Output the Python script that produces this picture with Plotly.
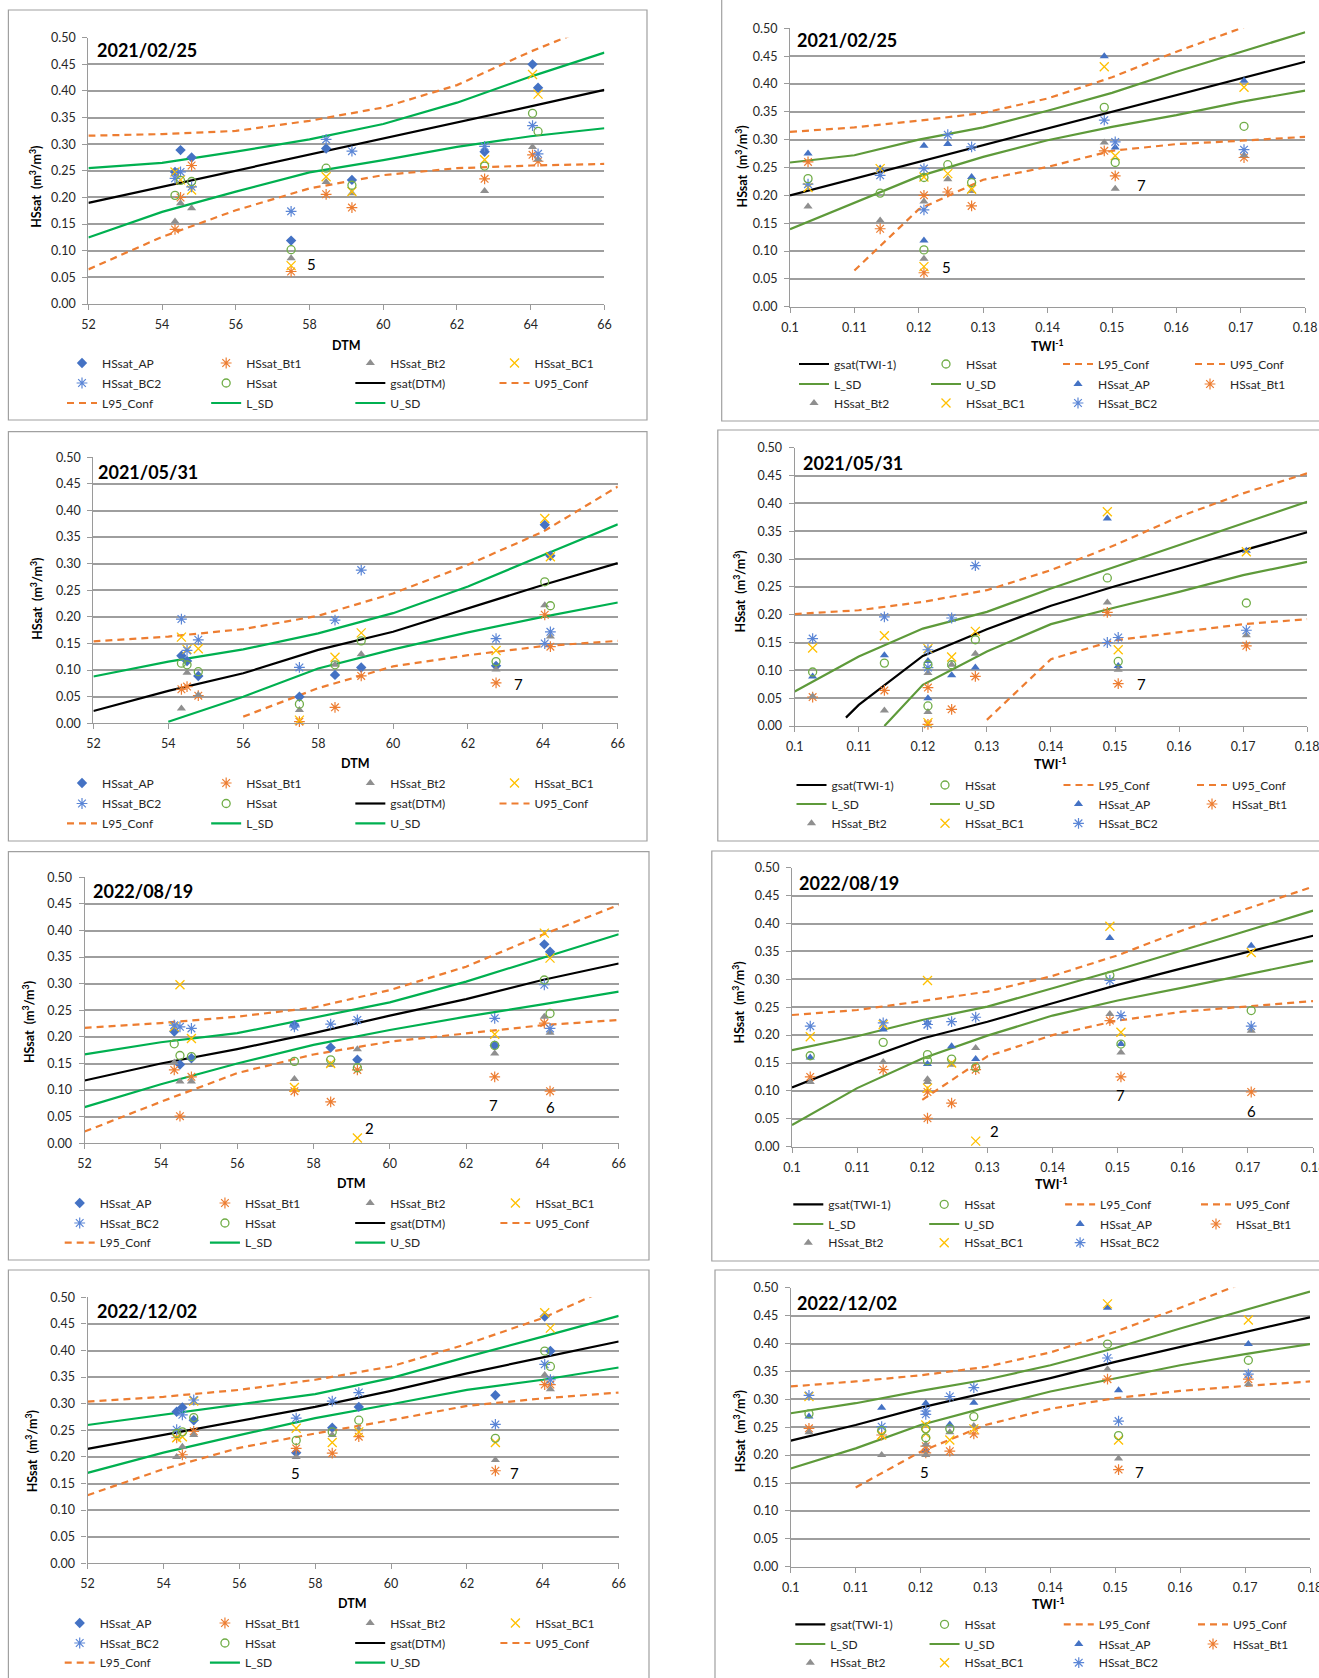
import plotly.graph_objects as go

W, H = 1319, 1678
FONT = "Lato"

# ---------------------------------------------------------------- data
SITE_DTM = [54.35, 54.5, 54.8, 57.5, 58.45, 59.15, 62.75, 64.05, 64.2]
SITE_TWI_INV = [0.114, 0.1208, 0.1028, 0.1208, 0.1245, 0.1282, 0.1505, 0.1488, 0.1705]

SERIES = ["HSsat_AP", "HSsat_Bt1", "HSsat_Bt2", "HSsat_BC1", "HSsat_BC2", "HSsat"]

HSSAT_20210225 = {
    "HSsat_AP":  [0.248, 0.289, 0.275, 0.119, 0.292, 0.233, 0.286, 0.450, 0.406],
    "HSsat_Bt1": [0.140, 0.200, 0.260, 0.061, 0.206, 0.181, 0.235, 0.280, 0.268],
    "HSsat_Bt2": [0.155, 0.189, 0.180, 0.086, 0.229, 0.208, 0.212, 0.295, 0.272],
    "HSsat_BC1": [0.248, 0.233, 0.214, 0.072, 0.239, 0.211, 0.271, 0.431, 0.394],
    "HSsat_BC2": [0.236, 0.248, 0.220, 0.174, 0.309, 0.287, 0.296, 0.335, 0.282],
    "HSsat":     [0.204, 0.232, 0.230, 0.102, 0.255, 0.223, 0.259, 0.358, 0.324],
}
HSSAT_20210531 = {
    "HSsat_AP":  [0.127, 0.117, 0.089, 0.050, 0.091, 0.105, 0.108, 0.373, 0.315],
    "HSsat_Bt1": [0.064, 0.069, 0.052, 0.003, 0.030, 0.089, 0.076, 0.204, 0.144],
    "HSsat_Bt2": [0.028, 0.095, 0.053, 0.025, 0.110, 0.130, 0.101, 0.222, 0.163],
    "HSsat_BC1": [0.162, 0.139, 0.140, 0.006, 0.124, 0.170, 0.137, 0.385, 0.313],
    "HSsat_BC2": [0.196, 0.137, 0.157, 0.105, 0.194, 0.288, 0.159, 0.150, 0.172],
    "HSsat":     [0.113, 0.110, 0.097, 0.036, 0.110, 0.155, 0.116, 0.266, 0.221],
}
HSSAT_20220819 = {
    "HSsat_AP":  [0.210, 0.148, 0.160, 0.222, 0.180, 0.157, 0.184, 0.374, 0.360],
    "HSsat_Bt1": [0.138, 0.051, 0.125, 0.098, 0.078, 0.138, 0.125, 0.226, 0.098],
    "HSsat_Bt2": [0.152, 0.116, 0.116, 0.121, 0.147, 0.177, 0.169, 0.238, 0.208],
    "HSsat_BC1": [0.219, 0.298, 0.197, 0.105, 0.150, 0.010, 0.205, 0.395, 0.348],
    "HSsat_BC2": [0.222, 0.219, 0.216, 0.219, 0.224, 0.232, 0.235, 0.298, 0.216],
    "HSsat":     [0.187, 0.165, 0.163, 0.154, 0.157, 0.142, 0.184, 0.307, 0.244],
}
HSSAT_20221202 = {
    "HSsat_AP":  [0.285, 0.293, 0.269, 0.208, 0.255, 0.294, 0.316, 0.464, 0.399],
    "HSsat_Bt1": [0.236, 0.204, 0.248, 0.216, 0.207, 0.238, 0.174, 0.336, 0.336],
    "HSsat_Bt2": [0.200, 0.219, 0.241, 0.200, 0.241, 0.252, 0.194, 0.354, 0.327],
    "HSsat_BC1": [0.236, 0.238, 0.305, 0.254, 0.227, 0.247, 0.227, 0.471, 0.442],
    "HSsat_BC2": [0.251, 0.279, 0.307, 0.273, 0.305, 0.321, 0.261, 0.374, 0.345],
    "HSsat":     [0.244, 0.247, 0.274, 0.231, 0.247, 0.269, 0.235, 0.399, 0.370],
}

# fitted curves (None = not defined at that abscissa)
DTM_GRID = [52, 54, 56, 58, 60, 62, 64, 66]
TWI_GRID = [0.10, 0.11, 0.12, 0.13, 0.14, 0.15, 0.16, 0.17, 0.18]
TWI_GRID_20210531 = [0.10, 0.108, 0.11, 0.114, 0.12, 0.13, 0.14, 0.15, 0.16, 0.17, 0.18]

FIT_DTM_20210225 = {
    "gsat":     [0.190, 0.220, 0.250, 0.281, 0.311, 0.341, 0.371, 0.402],
    "U95_Conf": [0.316, 0.319, 0.325, 0.344, 0.369, 0.411, 0.474, 0.530],
    "L95_Conf": [0.065, 0.126, 0.176, 0.217, 0.242, 0.255, 0.260, 0.263],
    "L_SD":     [0.125, 0.173, 0.211, 0.247, 0.270, 0.295, 0.315, 0.330],
    "U_SD":     [0.255, 0.265, 0.286, 0.309, 0.338, 0.378, 0.427, 0.472],
}
FIT_DTM_20210531 = {
    "gsat":     [0.023, 0.061, 0.094, 0.138, 0.172, 0.216, 0.260, 0.301],
    "U95_Conf": [0.154, 0.163, 0.177, 0.202, 0.244, 0.298, 0.360, 0.445],
    "L95_Conf": [None, None, 0.0125, 0.066, 0.107, 0.128, 0.145, 0.155],
    "L_SD":     [None, 0.003, 0.050, 0.103, 0.139, 0.171, 0.200, 0.227],
    "U_SD":     [0.088, 0.116, 0.139, 0.169, 0.207, 0.257, 0.316, 0.374],
}
FIT_DTM_20220819 = {
    "gsat":     [0.118, 0.150, 0.177, 0.207, 0.240, 0.271, 0.307, 0.338],
    "U95_Conf": [0.217, 0.226, 0.238, 0.255, 0.288, 0.332, 0.392, 0.448],
    "L95_Conf": [0.022, 0.078, 0.132, 0.167, 0.191, 0.207, 0.222, 0.232],
    "L_SD":     [0.068, 0.111, 0.150, 0.185, 0.213, 0.238, 0.261, 0.285],
    "U_SD":     [0.167, 0.190, 0.207, 0.236, 0.265, 0.304, 0.348, 0.393],
}
FIT_DTM_20221202 = {
    "gsat":     [0.215, 0.241, 0.268, 0.294, 0.324, 0.357, 0.387, 0.417],
    "U95_Conf": [0.304, 0.313, 0.326, 0.345, 0.370, 0.412, 0.461, 0.525],
    "L95_Conf": [0.128, 0.177, 0.217, 0.244, 0.269, 0.296, 0.310, 0.321],
    "L_SD":     [0.170, 0.208, 0.241, 0.273, 0.299, 0.326, 0.345, 0.368],
    "U_SD":     [0.260, 0.279, 0.298, 0.318, 0.348, 0.388, 0.426, 0.465],
}

FIT_TWI_20210225 = {
    "gsat":     [0.200, 0.230, 0.260, 0.290, 0.320, 0.350, 0.380, 0.410, 0.440],
    "U95_Conf": [0.314, 0.322, 0.334, 0.348, 0.374, 0.412, 0.458, 0.500, 0.545],
    "L95_Conf": [None, 0.065, 0.175, 0.228, 0.251, 0.280, 0.292, 0.298, 0.305],
    "L_SD":     [0.139, 0.186, 0.234, 0.269, 0.299, 0.323, 0.344, 0.368, 0.388],
    "U_SD":     [0.259, 0.272, 0.300, 0.322, 0.352, 0.384, 0.422, 0.458, 0.493],
}
FIT_TWI_20210531 = {
    "gsat":     [None, 0.015, 0.038, None, 0.126, 0.174, 0.216, 0.251, 0.283, 0.315, 0.348],
    "U95_Conf": [0.201, None, 0.208, None, 0.223, 0.244, 0.280, 0.325, 0.376, 0.418, 0.454],
    "L95_Conf": [None, None, None, None, None, 0.011, 0.120, 0.154, 0.169, 0.183, 0.192],
    "L_SD":     [None, None, None, 0.000, 0.074, 0.134, 0.183, 0.213, 0.241, 0.271, 0.295],
    "U_SD":     [0.062, None, 0.125, None, 0.175, 0.205, 0.247, 0.286, 0.325, 0.364, 0.403],
}
FIT_TWI_20220819 = {
    "gsat":     [0.106, 0.152, 0.194, 0.224, 0.257, 0.290, 0.320, 0.349, 0.378],
    "U95_Conf": [0.236, 0.245, 0.261, 0.278, 0.306, 0.343, 0.388, 0.427, 0.466],
    "L95_Conf": [None, None, 0.084, 0.162, 0.200, 0.226, 0.242, 0.251, 0.261],
    "L_SD":     [0.039, 0.105, 0.158, 0.199, 0.235, 0.262, 0.285, 0.309, 0.333],
    "U_SD":     [0.173, 0.198, 0.227, 0.251, 0.284, 0.317, 0.352, 0.388, 0.423],
}
FIT_TWI_20221202 = {
    "gsat":     [0.226, 0.254, 0.285, 0.311, 0.338, 0.367, 0.394, 0.421, 0.447],
    "U95_Conf": [0.323, 0.332, 0.343, 0.358, 0.384, 0.421, 0.464, 0.510, 0.555],
    "L95_Conf": [None, 0.142, 0.206, 0.254, 0.283, 0.302, 0.315, 0.324, 0.332],
    "L_SD":     [0.176, 0.212, 0.254, 0.285, 0.314, 0.338, 0.361, 0.381, 0.399],
    "U_SD":     [0.275, 0.293, 0.315, 0.335, 0.361, 0.392, 0.427, 0.460, 0.493],
}

# site number labels: (x, y, text)
LABELS_DTM_20210225 = [(58.05, 0.075, "5")]
LABELS_TWI_20210225 = [(0.1243, 0.072, "5"), (0.1546, 0.219, "7")]
LABELS_DTM_20210531 = [(63.36, 0.074, "7")]
LABELS_TWI_20210531 = [(0.1541, 0.075, "7")]
LABELS_DTM_20220819 = [(62.73, 0.072, "7"), (64.2, 0.069, "6"), (59.46, 0.029, "2")]
LABELS_TWI_20220819 = [(0.1504, 0.093, "7"), (0.1706, 0.064, "6"), (0.1311, 0.028, "2")]
LABELS_DTM_20221202 = [(57.49, 0.170, "5"), (63.25, 0.169, "7")]
LABELS_TWI_20221202 = [(0.1206, 0.170, "5"), (0.1538, 0.170, "7")]

# ---------------------------------------------------------------- panels
# side "L": HSsat vs DTM, side "R": HSsat vs TWI^-1
PANELS = [
    dict(date="2021/02/25", side="L", pts=HSSAT_20210225, fit=FIT_DTM_20210225, fx=DTM_GRID, labels=LABELS_DTM_20210225,
         area=(88.4, 604.4, 37.7, 304.0), box=(8.4, 647, 10, 420), ytitle=(35.8, 187), xtitle=(346, 345),
         datepos=(94.7, 50), leg_x=[102, 246, 390.6, 534.5], leg_y=[363, 383, 403]),
    dict(date="2021/02/25", side="R", pts=HSSAT_20210225, fit=FIT_TWI_20210225, fx=TWI_GRID, labels=LABELS_TWI_20210225,
         area=(790.0, 1305.2, 28.3, 306.7), box=(721.7, 1340, -5, 421), ytitle=(741.5, 167), xtitle=(1047, 345),
         datepos=(794.7, 40), leg_x=[834, 966.5, 1098, 1230], leg_y=[364, 384, 403]),
    dict(date="2021/05/31", side="L", pts=HSSAT_20210531, fit=FIT_DTM_20210531, fx=DTM_GRID, labels=LABELS_DTM_20210531,
         area=(93.4, 617.8, 457.3, 723.3), box=(8.4, 647, 431.7, 841), ytitle=(35.8, 599), xtitle=(355, 763),
         datepos=(96, 471.7), leg_x=[102, 246, 390.6, 534.5], leg_y=[783, 803.5, 823.3]),
    dict(date="2021/05/31", side="R", pts=HSSAT_20210531, fit=FIT_TWI_20210531, fx=TWI_GRID_20210531, labels=LABELS_TWI_20210531,
         area=(794.7, 1307.2, 447.7, 726.0), box=(717.8, 1340, 430, 841), ytitle=(739.5, 592), xtitle=(1050.6, 763),
         datepos=(800.7, 463.3), leg_x=[831.5, 964.5, 1098.7, 1232], leg_y=[785, 804, 823.3]),
    dict(date="2022/08/19", side="L", pts=HSSAT_20220819, fit=FIT_DTM_20220819, fx=DTM_GRID, labels=LABELS_DTM_20220819,
         area=(84.6, 618.7, 877.3, 1143.3), box=(8.4, 649, 851.7, 1260), ytitle=(28.6, 1022.5), xtitle=(351.4, 1183.3),
         datepos=(90.5, 891), leg_x=[99.7, 245.4, 390.6, 535.4], leg_y=[1203, 1223, 1242.7]),
    dict(date="2022/08/19", side="R", pts=HSSAT_20220819, fit=FIT_TWI_20220819, fx=TWI_GRID, labels=LABELS_TWI_20220819,
         area=(792.0, 1313.1, 867.7, 1146.7), box=(711.8, 1340, 851, 1261), ytitle=(737.5, 1003), xtitle=(1051.4, 1183.3),
         datepos=(796.7, 882.7), leg_x=[828.3, 964.5, 1100.7, 1236], leg_y=[1204.3, 1224, 1242.7]),
    dict(date="2022/12/02", side="L", pts=HSSAT_20221202, fit=FIT_DTM_20221202, fx=DTM_GRID, labels=LABELS_DTM_20221202,
         area=(87.5, 618.7, 1297.3, 1563.3), box=(8.4, 649, 1270, 1700), ytitle=(31.6, 1451.7), xtitle=(352.7, 1603.3),
         datepos=(94.7, 1311), leg_x=[99.7, 245.4, 390.6, 535.4], leg_y=[1623, 1643, 1662.7]),
    dict(date="2022/12/02", side="R", pts=HSSAT_20221202, fit=FIT_TWI_20221202, fx=TWI_GRID, labels=LABELS_TWI_20221202,
         area=(790.8, 1310.0, 1287.7, 1566.7), box=(715, 1340, 1270, 1700), ytitle=(739.5, 1431.7), xtitle=(1048.2, 1603.3),
         datepos=(794.7, 1302.7), leg_x=[830.3, 964.5, 1098.7, 1233], leg_y=[1624.3, 1644, 1662.7]),
]

# legend layout (rows of four entries, as in the workbook charts)
LEGEND_ROWS = {
    "L": [["HSsat_AP", "HSsat_Bt1", "HSsat_Bt2", "HSsat_BC1"],
          ["HSsat_BC2", "HSsat", "gsat", "U95_Conf"],
          ["L95_Conf", "L_SD", "U_SD"]],
    "R": [["gsat", "HSsat", "L95_Conf", "U95_Conf"],
          ["L_SD", "U_SD", "HSsat_AP", "HSsat_Bt1"],
          ["HSsat_Bt2", "HSsat_BC1", "HSsat_BC2"]],
}

BLUE, ORANGE, GREY, GOLD, SKY, GREEN_PT = "#4472C4", "#ED7D31", "#8f8f8f", "#FFC000", "#5B86D6", "#70AD47"
SD_COLOR = {"L": "#00B050", "R": "#5E9A3A"}
GRID = "#9e9e9e"
AXIS = "#9a9a9a"
TEXT = "#262626"


def marker_for(name, side):
    if name == "HSsat_AP":
        return dict(symbol="diamond" if side == "L" else "triangle-up", size=8, color=BLUE)
    if name == "HSsat_Bt1":
        return dict(symbol="asterisk-open", size=9, color=ORANGE, line=dict(width=1.2, color=ORANGE))
    if name == "HSsat_Bt2":
        return dict(symbol="triangle-up", size=8, color=GREY)
    if name == "HSsat_BC1":
        return dict(symbol="x-thin-open", size=9, color=GOLD, line=dict(width=1.3, color=GOLD))
    if name == "HSsat_BC2":
        return dict(symbol="asterisk-open", size=9, color=SKY, line=dict(width=1.2, color=SKY))
    return dict(symbol="circle-open", size=8, color=GREEN_PT, line=dict(width=1.3, color=GREEN_PT))


def line_for(name, side):
    if name == "gsat":
        return dict(color="black", width=2.2)
    if name in ("U95_Conf", "L95_Conf"):
        return dict(color=ORANGE, width=2.2, dash="7px,5px")
    return dict(color=SD_COLOR[side], width=2.2)


def px_x(v):
    return v / W


def px_y(v):
    return 1 - v / H


fig = go.Figure()
layout = dict(width=W, height=H, paper_bgcolor="white", plot_bgcolor="white",
              margin=dict(l=0, r=0, t=0, b=0, autoexpand=False), showlegend=True)
annotations, shapes = [], []
legend_count = 0

for i, p in enumerate(PANELS):
    side = p["side"]
    xr = "x" if i == 0 else f"x{i + 1}"
    yr = "y" if i == 0 else f"y{i + 1}"
    x0, x1, yt, yb = p["area"]
    xs = SITE_DTM if side == "L" else SITE_TWI_INV

    # one legend per row
    legend_of, rank_of = {}, {}
    for r, row in enumerate(p["leg_y"]):
        legend_count += 1
        lid = "legend" if legend_count == 1 else f"legend{legend_count}"
        cols = p["leg_x"]
        pitch = (cols[3] - cols[0]) / 3.0
        layout[lid] = dict(orientation="h", x=px_x(cols[0] - 40), xanchor="left",
                           y=px_y(row), yanchor="middle", entrywidth=pitch - 45,
                           entrywidthmode="pixels", bgcolor="rgba(0,0,0,0)", borderwidth=0,
                           itemwidth=30, traceorder="normal",
                           font=dict(family=FONT, size=12, color=TEXT))
        for c, name in enumerate(LEGEND_ROWS[side][r]):
            legend_of[name] = lid
            rank_of[name] = 1 + c

    def legend_name(name):
        if name == "gsat":
            return "gsat(DTM)" if side == "L" else "gsat(TWI-1)"
        return name

    # fitted curves first, points on top
    for name in ["gsat", "U95_Conf", "L95_Conf", "L_SD", "U_SD"]:
        fig.add_trace(go.Scatter(
            x=p["fx"], y=p["fit"][name], mode="lines", line=line_for(name, side),
            connectgaps=True, name=legend_name(name), legend=legend_of[name],
            legendrank=rank_of[name], xaxis=xr, yaxis=yr, hoverinfo="skip"))
    for name in SERIES:
        fig.add_trace(go.Scatter(
            x=xs, y=p["pts"][name], mode="markers", marker=marker_for(name, side),
            name=legend_name(name), legend=legend_of[name], legendrank=rank_of[name],
            xaxis=xr, yaxis=yr, cliponaxis=False))

    # axes
    tickfont = dict(family=FONT, size=12.5, color=TEXT)
    xaxis = dict(domain=[px_x(x0), px_x(x1)], anchor=yr, showgrid=False, zeroline=False,
                 showline=True, linecolor=AXIS, linewidth=1.2, ticks="outside", ticklen=5,
                 tickcolor=AXIS, tickwidth=1.2, tickfont=tickfont, ticklabelstandoff=4,
                 ticklabeloverflow="allow")
    if side == "L":
        xaxis.update(range=[52, 66], tick0=52, dtick=2)
    else:
        xaxis.update(range=[0.1, 0.18], tick0=0.1, dtick=0.01, tickformat=".2~f")
    yaxis = dict(domain=[px_y(yb), px_y(yt)], anchor=xr, range=[0, 0.5], tick0=0, dtick=0.05,
                 tickformat=".2f", showgrid=True, gridcolor=GRID, gridwidth=1.6, zeroline=False,
                 showline=True, linecolor=AXIS, linewidth=1.2, ticks="outside", ticklen=5,
                 tickcolor=AXIS, tickwidth=1.2, tickfont=tickfont, ticklabelstandoff=4)
    layout["xaxis" if i == 0 else f"xaxis{i + 1}"] = xaxis
    layout["yaxis" if i == 0 else f"yaxis{i + 1}"] = yaxis

    # frame around the chart
    bx0, bx1, by0, by1 = p["box"]
    shapes.append(dict(type="rect", xref="paper", yref="paper", x0=px_x(bx0), x1=px_x(bx1),
                       y0=px_y(by1), y1=px_y(by0), line=dict(color="#a0a0a0", width=1.2),
                       fillcolor="rgba(0,0,0,0)", layer="below"))

    # texts
    annotations.append(dict(text=p["date"], xref="paper", yref="paper", x=px_x(p["datepos"][0]),
                            y=px_y(p["datepos"][1]), xanchor="left", yanchor="middle", showarrow=False,
                            font=dict(family=FONT, size=18, color="black", weight="bold")))
    annotations.append(dict(text="HSsat  (m<sup>3</sup>/m<sup>3</sup>)", textangle=-90, xref="paper",
                            yref="paper", x=px_x(p["ytitle"][0]), y=px_y(p["ytitle"][1]),
                            xanchor="center", yanchor="middle", showarrow=False,
                            font=dict(family=FONT, size=12.5, color="black", weight="bold")))
    annotations.append(dict(text="DTM" if side == "L" else "TWI<sup>-1</sup>", xref="paper", yref="paper",
                            x=px_x(p["xtitle"][0]), y=px_y(p["xtitle"][1]), xanchor="center",
                            yanchor="middle", showarrow=False,
                            font=dict(family=FONT, size=12.5, color="black", weight="bold")))
    for lx, ly, lt in p["labels"]:
        annotations.append(dict(text=lt, xref=xr, yref=yr, x=lx, y=ly, xanchor="center",
                                yanchor="middle", showarrow=False,
                                font=dict(family=FONT, size=15, color="black")))

layout["annotations"] = annotations
layout["shapes"] = shapes
fig.update_layout(**layout)
fig.write_html("out.html")
